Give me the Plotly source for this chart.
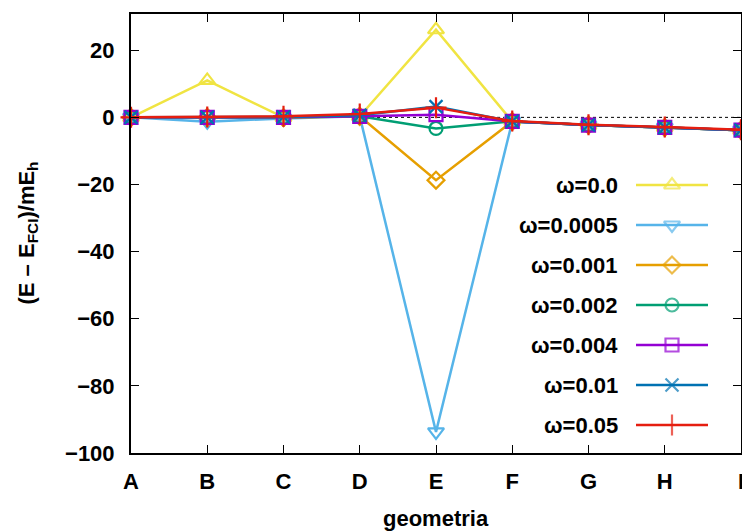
import plotly.graph_objects as go

geometries = ["A", "B", "C", "D", "E", "F", "G", "H", "I"]
series_names = ["ω=0.0", "ω=0.0005", "ω=0.001", "ω=0.002", "ω=0.004", "ω=0.01", "ω=0.05"]
w_0 = [0.0, 11.0, 0.0, 0.3, 26.1, -1.2, -2.3, -3.0, -3.8]
w_0005 = [0.0, -1.3, -0.3, 0.3, -93.7, -1.2, -2.3, -3.0, -3.8]
w_001 = [0.0, 0.0, -0.1, 0.3, -18.7, -1.2, -2.3, -3.0, -3.8]
w_002 = [0.0, 0.0, 0.0, 0.3, -3.3, -1.2, -2.3, -3.0, -3.8]
w_004 = [0.0, 0.0, 0.0, 0.3, 0.8, -1.2, -2.3, -3.0, -3.8]
w_01 = [0.0, 0.0, 0.1, 0.6, 3.2, -1.2, -2.3, -3.0, -3.8]
w_05 = [0.0, 0.1, 0.3, 1.0, 2.9, -1.1, -2.2, -2.9, -3.7]
y_ticks = [20, 0, -20, -40, -60, -80, -100]

all_series = [w_0, w_0005, w_001, w_002, w_004, w_01, w_05]
colors = ["#f0e442", "#56b4e9", "#e69f00", "#009e73", "#9400d3", "#0072b2", "#e51e10"]
symbols = ["triangle-up-open", "triangle-down-open", "diamond-open", "circle-open",
           "square-open", "x-thin-open", "cross-thin-open"]
sizes = [14, 14, 13, 13, 13, 13, 15]

FONT = "Liberation Sans, Arial, Helvetica, sans-serif"
FS = 22

W, H = 742, 531
L, R, T, B = 131, 1, 14, 78

fig = go.Figure()
xidx = list(range(len(geometries)))
for name, vals, c, s, sz in zip(series_names, all_series, colors, symbols, sizes):
    fig.add_trace(go.Scatter(
        x=xidx, y=vals, mode="lines+markers", name=name,
        line=dict(color=c, width=2.5),
        marker=dict(symbol=s, size=sz, color=c, line=dict(color=c, width=2.2)),
        showlegend=False, cliponaxis=False,
    ))

# manual legend in an overlay pixel-coordinate axis
leg_y0, leg_dy = 185, 40
leg_x0, leg_x1, leg_text_x = 636, 708, 620
annotations = []
for i, (name, c, s, sz) in enumerate(zip(series_names, colors, symbols, sizes)):
    yy = leg_y0 + i * leg_dy
    fig.add_trace(go.Scatter(
        x=[leg_x0, (leg_x0 + leg_x1) / 2, leg_x1], y=[yy, yy, yy],
        mode="lines+markers", xaxis="x2", yaxis="y2", showlegend=False,
        line=dict(color=c, width=2.5),
        marker=dict(symbol=s, size=[0, sz, 0], color=c, line=dict(color=c, width=2.2)),
        hoverinfo="skip",
    ))
    annotations.append(dict(
        x=leg_text_x, y=yy, xref="x2", yref="y2", text="<b>%s</b>" % name,
        showarrow=False, xanchor="right", yanchor="middle",
        font=dict(family=FONT, size=FS, color="black"),
    ))

annotations.append(dict(
    x=0.5, y=0, xref="paper", yref="paper", text="<b>geometria</b>",
    showarrow=False, xanchor="center", yanchor="middle", yshift=-(518 - (H - B)),
    font=dict(family=FONT, size=FS, color="black"),
))
annotations.append(dict(
    x=0, y=0.5, xref="paper", yref="paper",
    text="<b>(E – E<sub>FCI</sub>)/mE<sub>h</sub></b>",
    showarrow=False, xanchor="center", yanchor="middle", xshift=-(L - 27),
    textangle=-90, font=dict(family=FONT, size=FS, color="black"),
))

fig.add_shape(type="line", xref="x", yref="y", x0=0, x1=len(geometries) - 1, y0=0, y1=0,
              line=dict(color="black", width=1, dash="dot"), layer="below")

fig.update_layout(
    width=W, height=H,
    margin=dict(l=L, r=R, t=T, b=B, autoexpand=False),
    paper_bgcolor="white", plot_bgcolor="white",
    font=dict(family=FONT, size=FS, color="black"),
    annotations=annotations,
    xaxis=dict(
        range=[0, len(geometries) - 1], tickmode="array", tickvals=xidx,
        ticktext=["<b>%s</b>" % g for g in geometries],
        showgrid=False, zeroline=False, showline=True, linecolor="black", linewidth=2,
        mirror="ticks", ticks="inside", ticklen=8, tickwidth=1, tickcolor="black",
        ticklabelstandoff=8, ticklabeloverflow="allow", automargin=False,
    ),
    yaxis=dict(
        range=[-100, 30.8], tickmode="array", tickvals=y_ticks,
        ticktext=["<b>%s</b>" % (str(v).replace("-", "−")) for v in y_ticks],
        showgrid=False, zeroline=False, showline=True, linecolor="black", linewidth=2,
        mirror="ticks", ticks="inside", ticklen=8, tickwidth=1, tickcolor="black",
        ticklabelstandoff=10, ticklabeloverflow="allow", automargin=False,
    ),
    xaxis2=dict(range=[L, W - R], overlaying="x", visible=False, fixedrange=True),
    yaxis2=dict(range=[H - B, T], overlaying="y", visible=False, fixedrange=True),
)

fig.write_html("out.html", config={"displayModeBar": False},
               post_script="document.body.style.margin='0';")
